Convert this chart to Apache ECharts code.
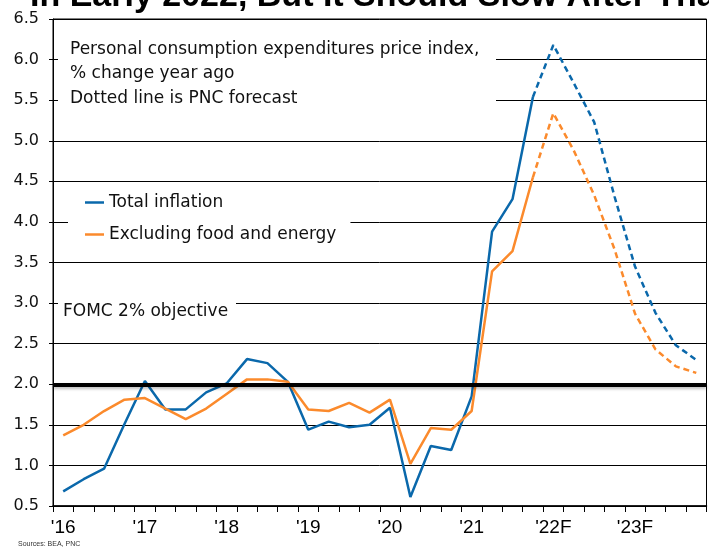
<!DOCTYPE html>
<html>
<head>
<meta charset="utf-8">
<script src="https://cdn.jsdelivr.net/npm/echarts@6/dist/echarts.min.js"></script>
<style>
  html, body { margin: 0; padding: 0; background: #ffffff; }
  #chart { width: 709px; height: 548px; }
</style>
</head>
<body>
<div id="chart"></div>
<script>
// Quarterly categories, 2016Q1 through 2023Q4
const quarters = [
  '2016Q1','2016Q2','2016Q3','2016Q4','2017Q1','2017Q2','2017Q3','2017Q4',
  '2018Q1','2018Q2','2018Q3','2018Q4','2019Q1','2019Q2','2019Q3','2019Q4',
  '2020Q1','2020Q2','2020Q3','2020Q4','2021Q1','2021Q2','2021Q3','2021Q4',
  '2022Q1','2022Q2','2022Q3','2022Q4','2023Q1','2023Q2','2023Q3','2023Q4'
];
const yearLabels = ["'16", "'17", "'18", "'19", "'20", "'21", "'22F", "'23F"];

// PCE price index, % change year ago — actuals through 2021Q4
const totalActual = [
  0.68, 0.83, 0.96, 1.51, 2.04, 1.69, 1.69, 1.90,
  2.01, 2.31, 2.26, 2.03, 1.44, 1.54, 1.47, 1.50,
  1.71, 0.61, 1.24, 1.19, 1.85, 3.88, 4.28, 5.54
];
const coreActual = [
  1.37, 1.50, 1.67, 1.81, 1.83, 1.70, 1.57, 1.70,
  1.88, 2.06, 2.06, 2.03, 1.69, 1.67, 1.77, 1.65,
  1.81, 1.02, 1.46, 1.44, 1.67, 3.39, 3.64, 4.55
];
// PNC forecast, 2022Q1 through 2023Q4
const totalForecast = [6.18, 5.71, 5.23, 4.31, 3.45, 2.88, 2.48, 2.30];
const coreForecast  = [5.34, 4.88, 4.33, 3.66, 2.87, 2.43, 2.22, 2.14];

const fomcObjective = 2.0;
const yMin = 0.5, yMax = 6.5, yStep = 0.5;

const BLUE = '#0a68ab';
const ORANGE = '#fb8a2c';
const TEXT_FONT = 'DejaVu Sans';
const NARROW_FONT = '"Liberation Sans Narrow", "Liberation Sans", sans-serif';

// Forecast lines start from the last actual quarter so the two pieces join
function forecastData(actual, forecast) {
  const out = actual.map(() => null);
  out[actual.length - 1] = actual[actual.length - 1];
  return out.concat(forecast);
}

const chart = echarts.init(document.getElementById('chart'), null, { renderer: 'canvas' });

chart.setOption({
  backgroundColor: '#ffffff',
  animation: false,
  grid: {
    left: 53, right: 2.5, top: 19, bottom: 42,
    show: true, borderColor: '#000', borderWidth: 1, backgroundColor: 'transparent'
  },
  legend: {
    data: ['Total inflation', 'Excluding food and energy'],
    orient: 'vertical',
    left: 68, top: 188,
    icon: 'rect',
    itemWidth: 19, itemHeight: 2.5,
    itemGap: 15,
    backgroundColor: '#ffffff',
    padding: [6, 14, 6, 17],
    textStyle: { fontFamily: TEXT_FONT, fontSize: 17, color: '#111' },
    z: 10
  },
  xAxis: {
    type: 'category',
    data: quarters,
    boundaryGap: true,
    axisLine: { lineStyle: { color: '#000', width: 1.5 } },
    axisTick: { show: true, interval: 0, length: 6, lineStyle: { color: '#000' } },
    axisLabel: {
      interval: 3,
      margin: 12,
      fontFamily: NARROW_FONT,
      fontSize: 19,
      color: '#000',
      formatter: (value, index) => yearLabels[Math.floor(index / 4)]
    },
    splitLine: { show: false }
  },
  yAxis: {
    type: 'value',
    min: yMin, max: yMax, interval: yStep,
    axisLine: { show: true, lineStyle: { color: '#000', width: 1 } },
    axisTick: { show: true, length: 4, lineStyle: { color: '#000' } },
    axisLabel: {
      margin: 14,
      fontFamily: TEXT_FONT, fontSize: 16, color: '#111',
      formatter: v => v.toFixed(1)
    },
    splitLine: { show: true, lineStyle: { color: '#000', width: 1 } }
  },
  series: [
    {
      name: 'FOMC objective',
      type: 'line',
      data: [],
      z: 1,
      markLine: {
        silent: true,
        symbol: 'none',
        label: { show: false },
        lineStyle: {
          color: '#000', width: 4, type: 'solid',
          shadowColor: 'rgba(0,0,0,0.25)', shadowBlur: 3, shadowOffsetY: 2
        },
        data: [{ yAxis: fomcObjective }]
      }
    },
    {
      name: 'Total inflation',
      type: 'line',
      data: totalActual,
      symbol: 'none',
      z: 3,
      itemStyle: { color: BLUE },
      lineStyle: { color: BLUE, width: 2.5 }
    },
    {
      name: 'Total inflation',
      type: 'line',
      data: forecastData(totalActual, totalForecast),
      symbol: 'none',
      z: 3,
      itemStyle: { color: BLUE },
      lineStyle: { color: BLUE, width: 2.5, type: [6, 4] }
    },
    {
      name: 'Excluding food and energy',
      type: 'line',
      data: coreActual,
      symbol: 'none',
      z: 4,
      itemStyle: { color: ORANGE },
      lineStyle: { color: ORANGE, width: 2.5 }
    },
    {
      name: 'Excluding food and energy',
      type: 'line',
      data: forecastData(coreActual, coreForecast),
      symbol: 'none',
      z: 4,
      itemStyle: { color: ORANGE },
      lineStyle: { color: ORANGE, width: 2.5, type: [6, 4] }
    }
  ],
  graphic: [
    {
      type: 'text',
      left: 30, top: -20,
      z: 20,
      style: {
        text: 'In Early 2022, But It Should Slow After That',
        fontFamily: '"Liberation Sans", Arial, sans-serif',
        fontWeight: 'bold',
        fontSize: 34,
        fill: '#000'
      }
    },
    {
      type: 'rect',
      shape: { x: 58, y: 33, width: 438, height: 75 },
      style: { fill: '#ffffff' },
      z: 10
    },
    {
      type: 'text',
      x: 70, y: 37,
      z: 11,
      style: {
        text: 'Personal consumption expenditures price index,\n% change year ago\nDotted line is PNC forecast',
        fontFamily: TEXT_FONT, fontSize: 17, lineHeight: 24.5,
        fill: '#111'
      }
    },
    {
      type: 'rect',
      shape: { x: 58, y: 297, width: 178, height: 28 },
      style: { fill: '#ffffff' },
      z: 10
    },
    {
      type: 'text',
      x: 63, y: 303,
      z: 11,
      style: {
        text: 'FOMC 2% objective',
        fontFamily: TEXT_FONT, fontSize: 17,
        fill: '#111'
      }
    },
    {
      type: 'text',
      x: 18, y: 541,
      z: 11,
      style: {
        text: 'Sources: BEA, PNC',
        fontFamily: NARROW_FONT, fontSize: 7,
        fill: '#333'
      }
    }
  ]
});
</script>
</body>
</html>
